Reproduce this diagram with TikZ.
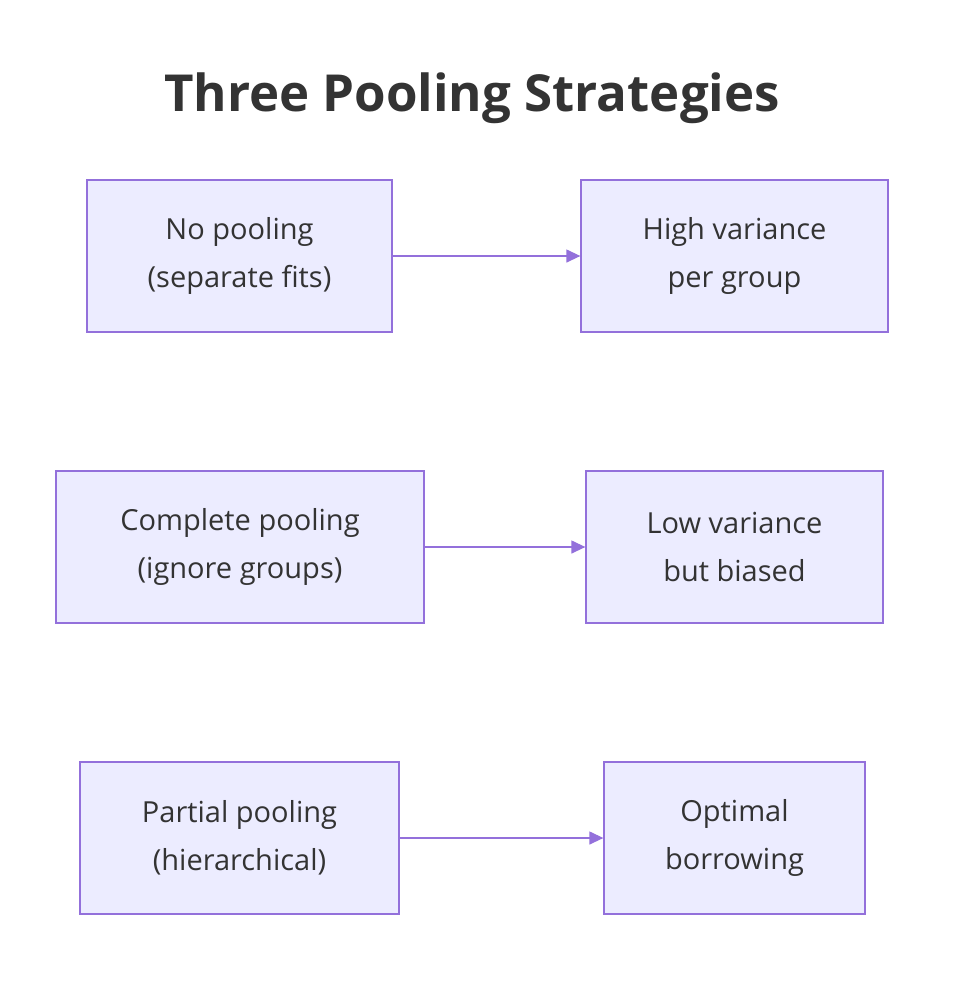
\documentclass[tikz,border=0pt]{standalone}
\usepackage{fontspec}
\setmainfont{Open Sans}
\usetikzlibrary{arrows.meta}
\definecolor{boxfill}{HTML}{ECECFF}
\definecolor{boxline}{HTML}{9370DB}
\definecolor{txt}{HTML}{333333}
\begin{document}
\begin{tikzpicture}[x=1pt,y=-1pt,
  box/.style={draw=boxline,fill=boxfill,line width=1.3pt,text=txt,inner sep=0pt,align=center,font=\fontsize{29}{48}\selectfont},
  arr/.style={draw=boxline,line width=1.3pt,-{Triangle[length=14pt,width=13pt]}}]
\useasboundingbox (0,0) rectangle (960,986);
\fill[white] (0,0) rectangle (960,986);
\node[text=txt,font=\fontsize{51}{60}\selectfont\bfseries] (title) at (472,98) {Three Pooling Strategies};
\node[box,minimum width=305pt,minimum height=152pt] (a) at (239.5,256) {No pooling\\(separate fits)};
\node[box,minimum width=307pt,minimum height=152pt] (b) at (734.5,256) {High variance\\per group};
\node[box,minimum width=368pt,minimum height=152pt] (c) at (240,547) {Complete pooling\\(ignore groups)};
\node[box,minimum width=297pt,minimum height=152pt] (d) at (734.5,547) {Low variance\\but biased};
\node[box,minimum width=319pt,minimum height=152pt] (e) at (239.5,838) {Partial pooling\\(hierarchical)};
\node[box,minimum width=261pt,minimum height=152pt] (f) at (734.5,838) {Optimal\\borrowing};
\draw[arr] (a) -- (b);
\draw[arr] (c) -- (d);
\draw[arr] (e) -- (f);
\end{tikzpicture}
\end{document}
